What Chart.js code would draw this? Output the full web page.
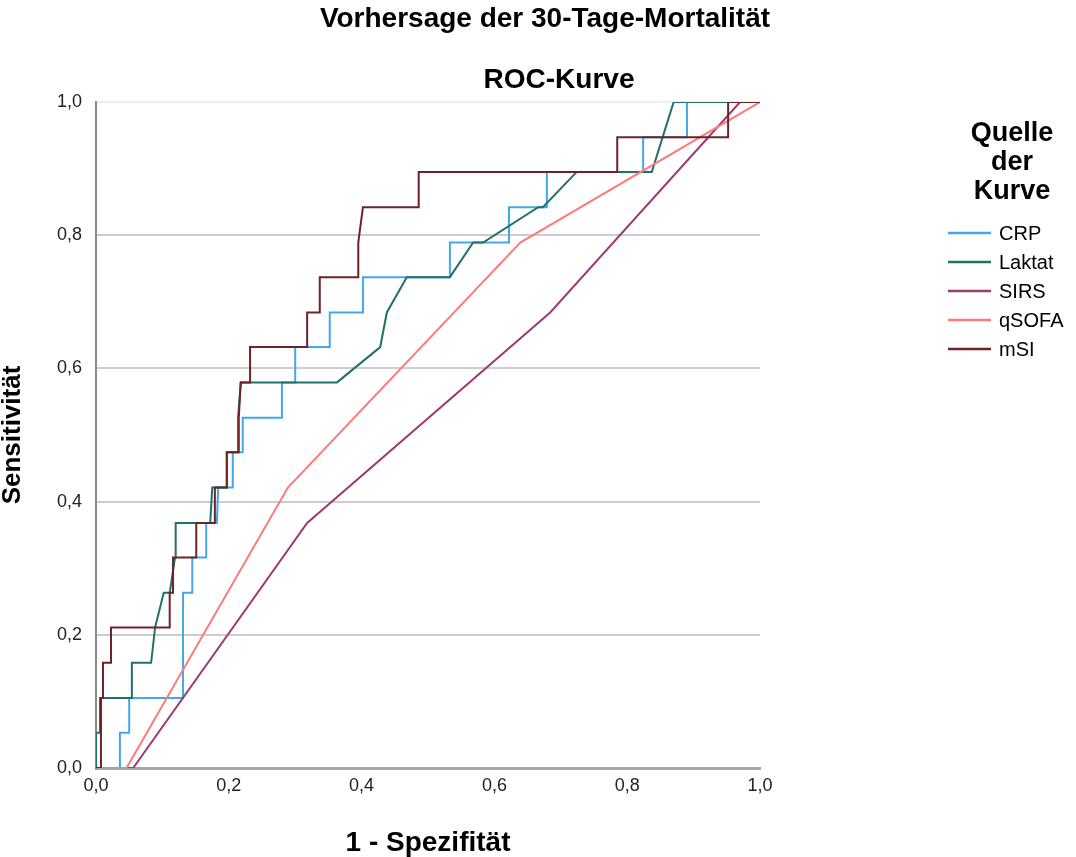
<!DOCTYPE html>
<html lang="de">
<head>
<meta charset="utf-8">
<title>ROC-Kurve</title>
<script src="https://cdn.jsdelivr.net/npm/chart.js@4.4.1/dist/chart.umd.min.js"></script>
<style>
  html, body { margin: 0; padding: 0; background: #fff; }
  #wrap { position: relative; width: 1076px; height: 857px; }
</style>
</head>
<body>
<div id="wrap"><canvas id="rocChart"></canvas></div>
<script>
// Texte
const titel = 'Vorhersage der 30-Tage-Mortalität';
const untertitel = 'ROC-Kurve';
const legendenTitel = ['Quelle', 'der', 'Kurve'];
const xTitel = '1 - Spezifität';
const yTitel = 'Sensitivität';

// Achsenbeschriftung (beide Achsen gleich)
const achsenTicks = [0, 0.2, 0.4, 0.6, 0.8, 1.0];

// Kurven
const kurven = ['CRP', 'Laktat', 'SIRS', 'qSOFA', 'mSI'];
const farben = ['#42a8ea', '#22706a', '#9e3a6e', '#ff7a7a', '#6e2327'];

// 1 - Spezifität / Sensitivität
const crpX = [0, 0.036, 0.036, 0.050, 0.050, 0.130, 0.131, 0.145, 0.145, 0.166, 0.166, 0.182, 0.184, 0.206, 0.206, 0.221, 0.221, 0.280, 0.280, 0.300, 0.300, 0.352, 0.352, 0.402, 0.402, 0.533, 0.533, 0.622, 0.622, 0.679, 0.679, 0.824, 0.824, 0.890, 0.890, 1];
const crpY = [0, 0, 0.053, 0.053, 0.105, 0.105, 0.263, 0.263, 0.316, 0.316, 0.368, 0.368, 0.421, 0.421, 0.474, 0.474, 0.526, 0.526, 0.579, 0.579, 0.632, 0.632, 0.684, 0.684, 0.737, 0.737, 0.789, 0.789, 0.842, 0.842, 0.895, 0.895, 0.947, 0.947, 1, 1];

const laktatX = [0, 0, 0.006, 0.006, 0.054, 0.054, 0.083, 0.089, 0.102, 0.111, 0.119, 0.120, 0.172, 0.175, 0.197, 0.197, 0.214, 0.214, 0.218, 0.363, 0.428, 0.438, 0.468, 0.533, 0.568, 0.583, 0.666, 0.673, 0.724, 0.837, 0.870, 1];
const laktatY = [0, 0.053, 0.053, 0.105, 0.105, 0.158, 0.158, 0.211, 0.263, 0.263, 0.316, 0.368, 0.368, 0.421, 0.421, 0.474, 0.474, 0.526, 0.579, 0.579, 0.632, 0.684, 0.737, 0.737, 0.789, 0.789, 0.842, 0.842, 0.895, 0.895, 1, 1];

const sirsX = [0, 0.056, 0.318, 0.684, 0.970, 1];
const sirsY = [0, 0, 0.368, 0.684, 1, 1];

const qsofaX = [0, 0.046, 0.289, 0.639, 1];
const qsofaY = [0, 0, 0.421, 0.789, 1];

const msiX = [0, 0.0075, 0.0075, 0.0105, 0.0105, 0.0226, 0.0226, 0.111, 0.111, 0.116, 0.116, 0.151, 0.151, 0.179, 0.179, 0.197, 0.197, 0.215, 0.215, 0.218, 0.232, 0.232, 0.318, 0.318, 0.337, 0.337, 0.395, 0.395, 0.402, 0.486, 0.486, 0.785, 0.785, 0.952, 0.952, 1];
const msiY = [0, 0, 0.105, 0.105, 0.158, 0.158, 0.211, 0.211, 0.263, 0.263, 0.316, 0.316, 0.368, 0.368, 0.421, 0.421, 0.474, 0.474, 0.526, 0.579, 0.579, 0.632, 0.632, 0.684, 0.684, 0.737, 0.737, 0.789, 0.842, 0.842, 0.895, 0.895, 0.947, 0.947, 1, 1];

const kurvenX = [crpX, laktatX, sirsX, qsofaX, msiX];
const kurvenY = [crpY, laktatY, sirsY, qsofaY, msiY];

const schrift = '"Liberation Sans", Arial, sans-serif';
const komma = v => Number(v).toFixed(1).replace('.', ',');

// Titel und Legende selbst zeichnen (Legendentitel ist dreizeilig)
const beschriftungPlugin = {
    id: 'beschriftung',
    afterDraw(chart) {
        const ctx = chart.ctx;
        ctx.save();
        ctx.fillStyle = '#000';
        ctx.textAlign = 'center';
        ctx.textBaseline = 'middle';
        ctx.font = 'bold 28px ' + schrift;
        ctx.fillText(titel, 545, 19);
        ctx.fillText(untertitel, 559, 80);

        ctx.textBaseline = 'alphabetic';
        ctx.font = 'bold 27px ' + schrift;
        legendenTitel.forEach((t, i) => ctx.fillText(t, 1012, 141 + i * 29));

        ctx.textAlign = 'left';
        ctx.textBaseline = 'middle';
        ctx.font = '20px ' + schrift;
        chart.data.datasets.forEach((ds, i) => {
            const y = 233 + i * 29;
            ctx.strokeStyle = ds.borderColor;
            ctx.lineWidth = 2.5;
            ctx.beginPath();
            ctx.moveTo(948, y);
            ctx.lineTo(991, y);
            ctx.stroke();
            ctx.fillStyle = '#000';
            ctx.fillText(ds.label, 999, y + 1);
        });
        ctx.restore();
    }
};

const ctx = document.getElementById('rocChart').getContext('2d');
new Chart(ctx, {
    type: 'line',
    data: {
        datasets: kurven.map((name, i) => ({
            label: name,
            data: kurvenX[i].map((x, j) => ({ x: x, y: kurvenY[i][j] })),
            borderColor: farben[i],
            backgroundColor: farben[i],
            borderWidth: 2,
            pointRadius: 0,
            tension: 0,
            fill: false,
            order: kurven.length - i // mSI liegt oben
        }))
    },
    options: {
        responsive: true,
        maintainAspectRatio: false,
        animation: false,
        layout: { padding: { top: 102, right: 316, bottom: 0, left: 0 } },
        plugins: {
            legend: { display: false },
            tooltip: { enabled: false }
        },
        scales: {
            x: {
                type: 'linear',
                min: 0,
                max: 1,
                afterFit: s => { s.height = 89; },
                afterBuildTicks: s => { s.ticks = achsenTicks.map(v => ({ value: v })); },
                grid: { display: false, drawTicks: false },
                border: { display: true, color: '#a8a8a8', width: 3 },
                ticks: {
                    padding: 7,
                    color: '#222',
                    font: { family: schrift, size: 18 },
                    maxRotation: 0,
                    callback: v => komma(v)
                },
                title: {
                    display: true,
                    text: xTitel,
                    color: '#000',
                    padding: 0,
                    font: { family: schrift, size: 28, weight: 'bold', lineHeight: 1 }
                }
            },
            y: {
                type: 'linear',
                min: 0,
                max: 1,
                afterFit: s => { s.width = 96; },
                afterBuildTicks: s => { s.ticks = achsenTicks.map(v => ({ value: v })); },
                grid: {
                    drawTicks: false,
                    lineWidth: 2,
                    color: c => (c.tick && c.tick.value === 1) ? '#f0f0f0' : '#cdcdcd'
                },
                border: { display: true, color: '#8a8a8a', width: 2 },
                ticks: {
                    padding: 14,
                    color: '#222',
                    font: { family: schrift, size: 18 },
                    callback: v => komma(v)
                },
                title: {
                    display: true,
                    text: yTitel,
                    color: '#000',
                    padding: 0,
                    font: { family: schrift, size: 26, weight: 'bold', lineHeight: 1 }
                }
            }
        }
    },
    plugins: [beschriftungPlugin]
});
</script>
</body>
</html>
